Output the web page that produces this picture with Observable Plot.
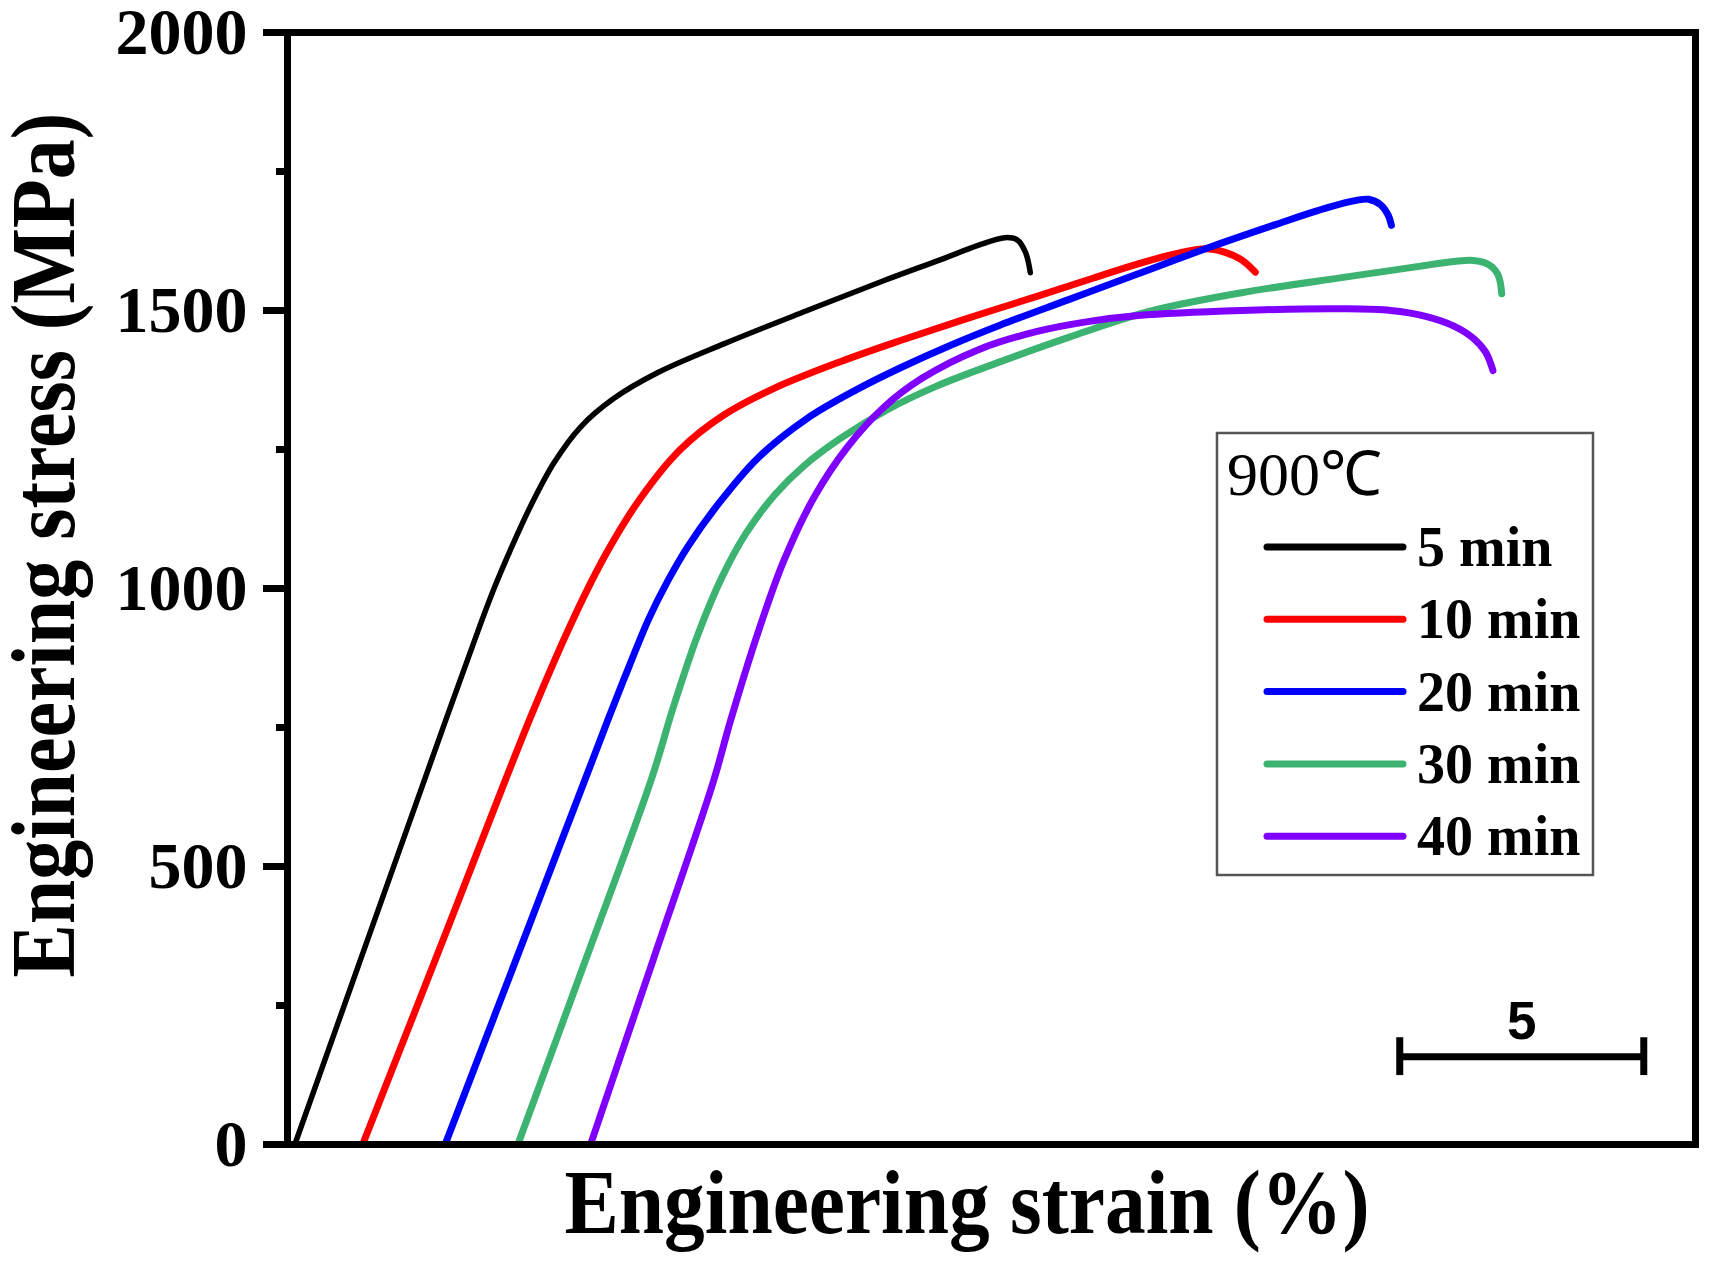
<!DOCTYPE html>
<html>
<head>
<meta charset="utf-8">
<script src="https://cdn.jsdelivr.net/npm/d3@7"></script>
<script src="https://cdn.jsdelivr.net/npm/@observablehq/plot@0.6"></script>
<style>
  body { margin: 0; background: #fff; }
</style>
</head>
<body>
<div id="chart"></div>
<script>
// series (strain in %, stress in MPa)
const series = ["5 min", "10 min", "20 min", "30 min", "40 min"];
const colors = ["#000000", "#ff0000", "#0000ff", "#3cb371", "#8000ff"];

const strain5 = [0.15, 1.6, 3.27, 3.95, 4.25, 4.55, 4.98, 5.46, 6.0, 6.69, 7.58, 8.94, 10.65, 12.2, 13.4, 14.15, 14.7, 14.95, 15.12, 15.22];
const stress5 = [0, 358, 770, 935, 1004, 1066, 1148, 1226, 1290, 1342, 1388, 1440, 1500, 1553, 1592, 1617, 1631, 1627, 1605, 1568];

const strain10 = [1.54, 3.3, 5.01, 5.87, 6.55, 7.23, 8.05, 8.94, 9.97, 11.33, 12.56, 13.9, 15.34, 16.5, 17.43, 18.3, 18.8, 19.2, 19.55, 19.83];
const stress10 = [0, 393, 775, 948, 1066, 1162, 1250, 1312, 1360, 1408, 1446, 1485, 1525, 1558, 1584, 1604, 1611, 1605, 1591, 1569];

const strain20 = [3.23, 5.0, 6.58, 7.0, 7.4, 7.8, 8.2, 8.81, 9.63, 10.65, 11.67, 12.56, 13.6, 14.61, 16.02, 17.43, 18.84, 20.26, 21.31, 21.9, 22.15, 22.4, 22.55, 22.62];
const stress20 = [0, 405, 767, 860, 945, 1015, 1075, 1150, 1234, 1306, 1358, 1397, 1438, 1474, 1520, 1566, 1612, 1655, 1685, 1698, 1700, 1690, 1672, 1653];

const strain30 = [4.72, 6.1, 7.46, 7.9, 8.4, 8.9, 9.4, 10.0, 10.6, 11.33, 12.3, 13.3, 14.61, 16.02, 17.64, 19.55, 21.67, 23.08, 23.9, 24.3, 24.6, 24.8, 24.88];
const stress30 = [0, 330, 658, 785, 915, 1020, 1100, 1170, 1222, 1270, 1322, 1364, 1408, 1452, 1498, 1532, 1560, 1578, 1588, 1590, 1583, 1565, 1530];

const strain40 = [6.21, 7.5, 8.72, 9.08, 9.63, 10.17, 10.79, 11.47, 12.22, 13.0, 14.17, 15.34, 16.4, 17.43, 19.55, 21.67, 22.6, 23.3, 23.9, 24.3, 24.55, 24.7];
const stress40 = [0, 334, 651, 763, 918, 1050, 1164, 1254, 1326, 1378, 1430, 1462, 1480, 1491, 1500, 1503, 1500, 1490, 1472, 1450, 1425, 1392];

const yMajor = [0, 500, 1000, 1500, 2000];
const yMinor = [250, 750, 1250, 1750];
const scaleBar = [22.79, 27.79]; // 5 % strain
const scaleBarLabel = "5";
const legendTitle = "900℃";

const strains = [strain5, strain10, strain20, strain30, strain40];
const stresses = [stress5, stress10, stress20, stress30, stress40];
const table = series.map((s, i) => strains[i].map((x, j) => ({series: s, strain: x, stress: stresses[i][j]})));

const serif = "'Liberation Serif', 'Times New Roman', serif";

let chart = Plot.plot({
  width: 1710,
  height: 1262,
  marginLeft: 287,
  marginRight: 15,
  marginTop: 32,
  marginBottom: 118,
  x: {domain: [0, 28.85], axis: null},
  y: {domain: [0, 2000], axis: null},
  style: {fontFamily: serif, background: "#fff", color: "#000"},
  marks: [
    ...table.map((rows, i) => Plot.line(rows, {
      x: "strain",
      y: "stress",
      stroke: colors[i],
      strokeWidth: i === 0 ? 5.5 : 7,
      curve: "catmull-rom",
    })),
    Plot.axisY(yMinor, {anchor: "left", tickSize: 11, strokeWidth: 7, text: null, tickFormat: () => "", label: null}),
    Plot.axisY(yMajor, {anchor: "left", tickSize: 24, strokeWidth: 7, tickPadding: 16, fontSize: 66, fontWeight: "bold", tickFormat: d => String(d), label: null}),
    Plot.frame({strokeWidth: 7}),
    // scale bar
    Plot.ruleY([158], {x1: scaleBar[0], x2: scaleBar[1], strokeWidth: 7}),
    Plot.ruleX(scaleBar, {y1: 124, y2: 192, strokeWidth: 7}),
    Plot.text([scaleBarLabel], {
      x: (scaleBar[0] + scaleBar[1]) / 2, y: 221, text: d => d,
      fontFamily: "'Liberation Sans', Arial, sans-serif", fontWeight: "bold", fontSize: 53,
    }),
  ],
});

const svg = d3.select(chart);

// axis titles (squeezed like the original)
svg.append("text")
  .attr("transform", "translate(74,545) rotate(-90)")
  .attr("text-anchor", "middle")
  .attr("textLength", 865)
  .attr("lengthAdjust", "spacingAndGlyphs")
  .style("font-family", serif).style("font-weight", "bold").style("font-size", "92px")
  .text("Engineering stress (MPa)");

svg.append("text")
  .attr("x", 967).attr("y", 1233)
  .attr("text-anchor", "middle")
  .attr("textLength", 805)
  .attr("lengthAdjust", "spacingAndGlyphs")
  .style("font-family", serif).style("font-weight", "bold").style("font-size", "91px")
  .text("Engineering strain (%)");

// legend
const lg = svg.append("g").attr("text-anchor", "start");
lg.append("rect")
  .attr("x", 1217).attr("y", 433).attr("width", 376).attr("height", 442)
  .attr("fill", "#fff").attr("stroke", "#555").attr("stroke-width", 2.5);
lg.append("text")
  .attr("x", 1227).attr("y", 495)
  .attr("text-anchor", "start")
  .style("font-family", serif).style("font-size", "62px")
  .text(legendTitle);
series.forEach((s, i) => {
  const y = 547 + i * 72.3;
  lg.append("line")
    .attr("x1", 1267).attr("x2", 1403).attr("y1", y).attr("y2", y)
    .attr("stroke", colors[i]).attr("stroke-width", 7).attr("stroke-linecap", "round");
  lg.append("text")
    .attr("x", 1417).attr("y", y + 19)
    .attr("text-anchor", "start")
    .style("font-family", serif).style("font-weight", "bold").style("font-size", "56px")
    .text(s);
});

d3.select("#chart").append(() => chart);
</script>
</body>
</html>
